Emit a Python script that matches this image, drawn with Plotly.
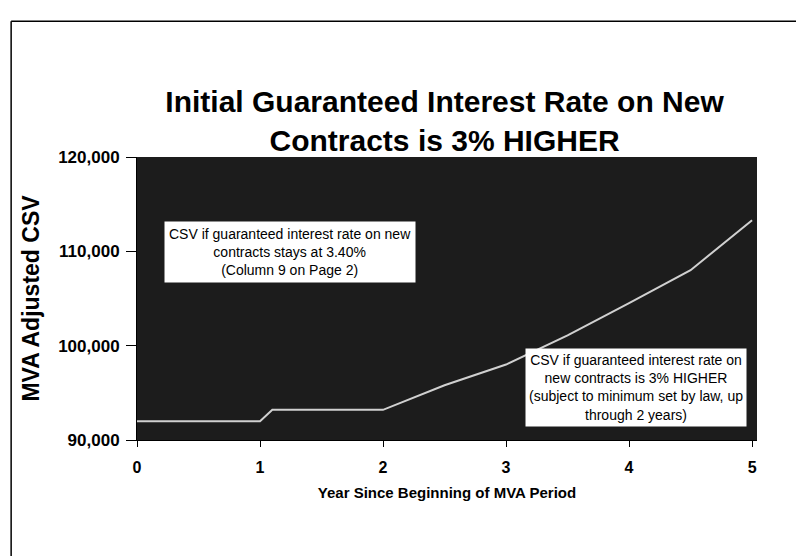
import plotly.graph_objects as go

# Data
years = [0, 0.5, 1.0, 1.1, 1.5, 2.0, 2.5, 3.0, 3.5, 4.0, 4.5, 5.0]
csv_higher = [92000, 92000, 92000, 93200, 93200, 93200, 95800, 98000, 101100, 104500, 108000, 113300]

x_ticks = [0, 1, 2, 3, 4, 5]
y_ticks = [90000, 100000, 110000, 120000]
y_tick_labels = ["90,000", "100,000", "110,000", "120,000"]

title_text = "Initial Guaranteed Interest Rate on New<br>Contracts is 3% HIGHER"
note_low = "CSV if guaranteed interest rate on new<br>contracts stays at 3.40%<br>(Column 9 on Page 2)"
note_high = "CSV if guaranteed interest rate on<br>new contracts is 3% HIGHER<br>(subject to minimum set by law, up<br>through 2 years)"

FONT = "Liberation Sans, Arial, sans-serif"

fig = go.Figure()
fig.add_trace(go.Scatter(
    x=years, y=csv_higher, mode="lines",
    line=dict(color="#d0d0d0", width=2),
    showlegend=False, hoverinfo="skip",
))

fig.update_layout(
    width=804, height=556,
    margin=dict(l=129, r=55, t=149, b=124),
    paper_bgcolor="white",
    plot_bgcolor="#1c1c1c",
    font=dict(family=FONT, color="black"),
    title=dict(
        text="<b>" + title_text + "</b>",
        x=0.543, xanchor="center", y=0.813, yanchor="middle",
        font=dict(size=30, family=FONT, color="black"),
    ),
    xaxis=dict(
        range=[0, 5.04], tickvals=x_ticks,
        ticktext=["<b>%d</b>" % v for v in x_ticks],
        showgrid=False, zeroline=False,
        ticks="outside", ticklen=6, tickcolor="black",
        ticklabelstandoff=7,
        showline=True, linecolor="black",
        tickfont=dict(size=16, family=FONT),
        title=dict(text="<b>Year Since Beginning of MVA Period</b>",
                   font=dict(size=15, family=FONT), standoff=12),
    ),
    yaxis=dict(
        range=[90000, 120000], tickvals=y_ticks,
        ticktext=["<b>%s</b>" % t for t in y_tick_labels],
        showgrid=False, zeroline=False,
        ticks="outside", ticklen=10, tickcolor="black",
        ticklabelstandoff=3,
        showline=True, linecolor="black",
        tickfont=dict(size=17, family=FONT),
        title=dict(text="<b>MVA Adjusted CSV</b>",
                   font=dict(size=23, family=FONT), standoff=12),
    ),
)

fig.add_annotation(
    x=1.24, y=109900, xref="x", yref="y", text=note_low, showarrow=False,
    bgcolor="white", borderpad=4, font=dict(size=14, family=FONT, color="black"),
    align="center",
)
fig.add_annotation(
    x=4.06, y=95600, xref="x", yref="y", text=note_high, showarrow=False,
    bgcolor="white", borderpad=3, font=dict(size=14, family=FONT, color="black"),
    align="center",
)

# scanned page frame
fig.add_shape(type="line", xref="paper", yref="paper",
              x0=-0.203, x1=-0.203, y0=-0.44, y1=1.48,
              line=dict(color="black", width=1.5))
fig.add_shape(type="line", xref="paper", yref="paper",
              x0=-0.203, x1=1.2, y0=1.48, y1=1.48,
              line=dict(color="black", width=1.5))

fig.write_html("out.html")
